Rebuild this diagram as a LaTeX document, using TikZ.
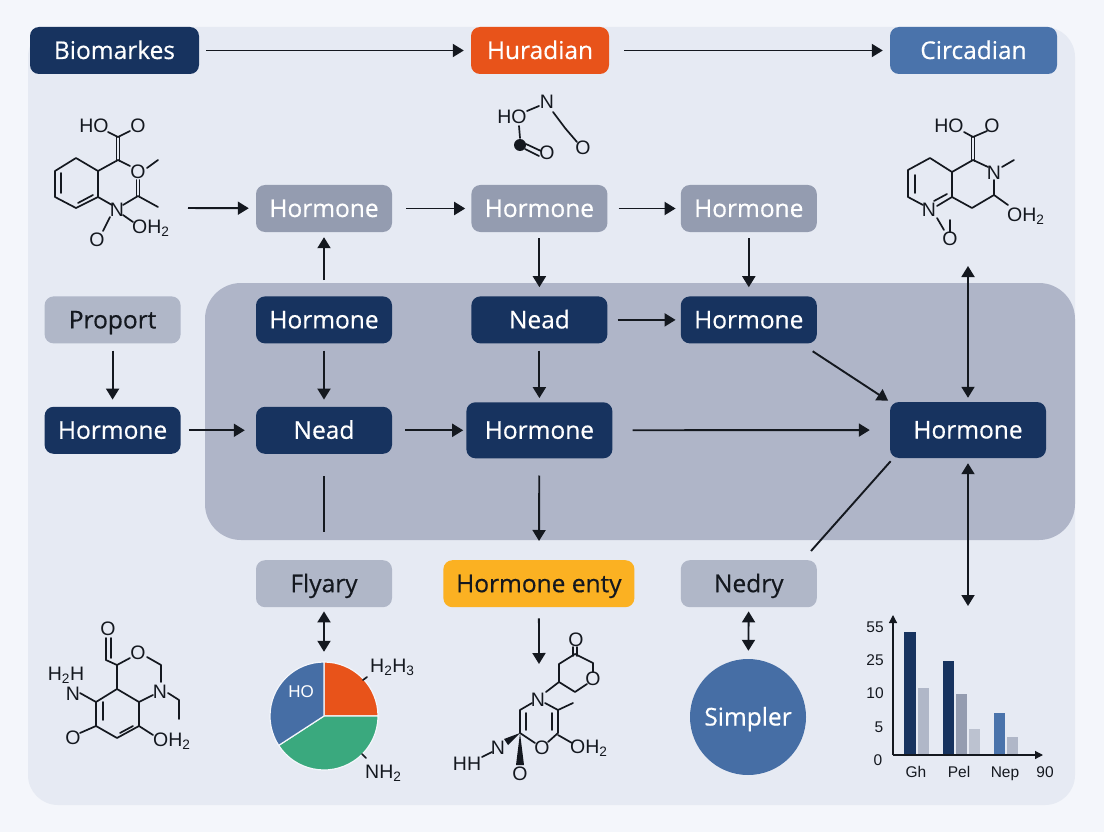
\documentclass[tikz,border=0pt]{standalone}
\usepackage{fontspec}
\setmainfont{Open Sans}[FakeBold=0.5]
\newfontfamily\labelfont{Open Sans}[AutoFakeBold=0.5]
\newfontfamily\chemfont{Liberation Sans}
\usetikzlibrary{positioning, arrows.meta}
\definecolor{pagebg}{HTML}{F4F6FB}
\definecolor{panelbg}{HTML}{E6EAF3}
\definecolor{midbg}{HTML}{AFB5C8}
\definecolor{navy}{HTML}{17335F}
\definecolor{steel}{HTML}{949CB0}
\definecolor{mist}{HTML}{B0B7C8}
\definecolor{sunset}{HTML}{E8531A}
\definecolor{amber}{HTML}{FBB122}
\definecolor{skyblue}{HTML}{4A73AB}
\definecolor{leaf}{HTML}{3AA97E}
\definecolor{inkc}{HTML}{14181F}

\begin{document}
\begin{tikzpicture}[
        x=1pt, y=-1pt,
        >={Stealth[inset=0pt, length=11pt, width=13pt]},
        % Blocks
        block/.style={rectangle, rounded corners=9pt, minimum height=47pt, minimum width=136pt, inner sep=0pt, align=center, text height=17pt, text depth=0pt, font=\labelfont\bfseries\fontsize{24.5}{26}\selectfont},
        darkb/.style={block, fill=navy, text=white},
        greyb/.style={block, fill=steel, text=white},
        softb/.style={block, fill=mist, text=inkc},
        % Connectors
        link/.style={line width=1.9pt, color=inkc, shorten <=7pt, shorten >=7pt},
        % Molecules
        bond/.style={line width=1.7pt, color=inkc, line cap=round, line join=round},
        atom/.style={inner sep=0pt, text=inkc, font=\chemfont\fontsize{19.5}{19}\selectfont},
        tick/.style={inner sep=0pt, text=inkc, text height=11pt, text depth=0pt, font=\chemfont\fontsize{15.5}{16}\selectfont},
        node distance=75pt
    ]
        \useasboundingbox (0,0) rectangle (1104,832);
        \fill[pagebg] (0,0) rectangle (1104,832);
        \fill[panelbg, rounded corners=30pt] (28,27) rectangle (1075,805);
        \fill[midbg, rounded corners=36pt] (205,283) rectangle (1075,540);

        % Top row
        \node[darkb, minimum width=169pt] (biomarkes) at (114.5,50.5) {Biomarkes};
        \node[block, fill=sunset, text=white, minimum width=138pt] (huradian) at (540,50.5) {Huradian};
        \node[block, fill=skyblue, text=white, minimum width=167pt] (circadian) at (973.5,50.5) {Circadian};

        % Grid of hormones
        \node[greyb] (hgreya) at (324,208.5) {Hormone};
        \node[greyb, right=79pt of hgreya] (hgreyb) {Hormone};
        \node[greyb, right=73pt of hgreyb] (hgreyc) {Hormone};
        \node[darkb, below=64pt of hgreya] (hdarka) {Hormone};
        \node[darkb, below=64pt of hgreyb] (nead) {Nead};
        \node[darkb, below=64pt of hgreyc] (hdarkc) {Hormone};
        \node[softb, left=of hdarka] (proport) {Proport};
        \node[darkb, below=63pt of proport] (hleft) {Hormone};
        \node[darkb, right=of hleft] (neadlow) {Nead};
        \node[darkb, minimum width=146pt, minimum height=56pt, right=74pt of neadlow] (hmid) {Hormone};
        \node[darkb, minimum width=156pt, minimum height=56pt] (hright) at (968,430) {Hormone};

        % Bottom row
        \node[softb, below=106pt of neadlow] (flyary) {Flyary};
        \node[block, fill=amber, text=inkc, minimum width=191pt, right=51pt of flyary] (enty) {Hormone enty};
        \node[softb, right=46pt of enty] (nedry) {Nedry};
        \node[circle, fill=skyblue!92!navy, text=white, minimum size=116pt, inner sep=0pt, text height=17pt, text depth=0pt, font=\labelfont\bfseries\fontsize{24.5}{26}\selectfont] (simpler) at (748,717) {Simpler};
        \node[circle, minimum size=108pt, inner sep=0pt] (pie) at (324,716) {};

        % Free ends
        \coordinate (molleft) at (181,208);
        \coordinate (molright) at (968,259);
        \coordinate (chart) at (968,613);
        \coordinate (molmid) at (539,671);
        \coordinate (nedryend) at (811,551);

        % Arrows
        \draw[->, link] (biomarkes) -- (huradian);
        \draw[->, link, shorten <=15pt] (huradian) -- (circadian);
        \draw[->, link] (molleft) -- (hgreya);
        \draw[->, link, shorten <=14pt, shorten >=6pt] (hgreya) -- (hgreyb);
        \draw[->, link, shorten <=11pt, shorten >=5pt] (hgreyb) -- (hgreyc);
        \draw[->, link, shorten <=16pt, shorten >=5pt] (hdarka) -- (hgreya);
        \draw[->, link, shorten <=6pt, shorten >=9pt] (hgreyb) -- (nead);
        \draw[->, link, shorten <=6pt, shorten >=9pt] (hgreyc) -- (hdarkc);
        \draw[->, link] (proport) -- (hleft);
        \draw[->, link] (hdarka) -- (neadlow);
        \draw[->, link, shorten >=4pt] (nead) -- (hmid);
        \draw[->, link, shorten <=10pt, shorten >=5pt] (nead) -- (hdarkc);
        \draw[->, link, shorten <=8pt, shorten >=11pt] (hleft) -- (neadlow);
        \draw[->, link, shorten <=13pt, shorten >=3pt] (neadlow) -- (hmid);
        \draw[->, link, shorten <=20pt, shorten >=20pt] (hmid) -- (hright);
        \draw[->, link, shorten <=14pt, shorten >=2pt] ([xshift=-16pt]hdarkc.south east) -- (hright.north west);
        \draw[<->, link, shorten <=4pt] (hright) -- (molright);
        \draw[<->, link, shorten <=5pt] (hright) -- (chart);
        \draw[->, link, shorten <=17pt, shorten >=19pt] (hmid) -- (enty);
        \draw[link, shorten <=22pt, shorten >=28pt] (neadlow) -- (flyary);
        \draw[link, shorten <=4pt, shorten >=0pt] ([xshift=3.5pt]hright.south west) -- (nedryend);
        \draw[<->, link, shorten <=4pt, shorten >=10pt] (flyary) -- (pie);
        \draw[->, link, shorten <=11pt] (enty) -- (molmid);
        \draw[<->, link, shorten <=4pt, shorten >=8pt] (nedry) -- (simpler);

        % Molecule top left
        \node[atom] (ma1) at (94,126) {HO};
        \node[atom] (ma2) at (138,126) {O};
        \node[atom] (ma3) at (138,172) {O};
        \node[atom] (ma4) at (117,210) {N};
        \node[atom, anchor=west] (ma5) at (132,228) {OH\textsubscript{2}};
        \node[atom] (ma6) at (97,240) {O};
        \draw[bond] (108,132) -- (118,137) -- (130,131);
        \draw[bond] (116.5,137) -- (116.5,161) (119.5,137) -- (119.5,161);
        \draw[bond] (130,166) -- (118,160) -- (98,171) -- (76,158) -- (55,171) -- (55,197) -- (76,208) -- (98,197) -- (98,171);
        \draw[bond] (61,173) -- (61,193) (78,203) -- (93,195);
        \draw[bond] (147,168) -- (158,160);
        \draw[bond] (136.5,180) -- (136.5,197) (139.5,180) -- (139.5,197);
        \draw[bond] (158,207) -- (138,196) -- (123,205);
        \draw[bond] (98,197) -- (112,205) (123,215) -- (133,222) (110,217) -- (103,231);

        % Molecule top middle
        \node[atom] (mb1) at (512,117) {HO};
        \node[atom] (mb2) at (547,102) {N};
        \node[atom] (mb3) at (583,148) {O};
        \node[atom] (mb4) at (547,153) {O};
        \fill[inkc] (520,145) circle (6pt);
        \draw[bond] (527,111) -- (539,106) (519,126) -- (520,138);
        \draw[bond] (526,144) -- (541,151) (525,149) -- (539,156);
        \draw[bond] (553,112) -- (565,128) -- (577,142);

        % Molecule top right
        \node[atom] (mc1) at (949,126) {HO};
        \node[atom] (mc2) at (992,126) {O};
        \node[atom] (mc3) at (994,173) {N};
        \node[atom] (mc4) at (929,210) {N};
        \node[atom, anchor=west] (mc5) at (1007,216) {OH\textsubscript{2}};
        \node[atom] (mc6) at (950,239) {O};
        \draw[bond] (964,132) -- (973,137) -- (987,131);
        \draw[bond] (971.5,137) -- (971.5,161) (974.5,137) -- (974.5,161);
        \draw[bond] (988,167) -- (973,160) -- (952,172) -- (930,158) -- (908,170) -- (908,197) -- (923,205);
        \draw[bond] (952,172) -- (952,197) -- (972,208) -- (994,195) -- (994,180);
        \draw[bond] (994,195) -- (1008,205) (1002,167) -- (1014,160);
        \draw[bond] (915,175) -- (915,193) (952,197) -- (937,206) (947,194) -- (934,201);
        \draw[bond] (937,218) -- (944,230) (950,220) -- (950,232);

        % Molecule bottom left
        \node[atom] (md1) at (108,629) {O};
        \node[atom] (md2) at (138,653) {O};
        \node[atom] (md3) at (160,692) {N};
        \node[atom] (md4) at (73,694) {N};
        \node[atom] (md5) at (66,675) {H\textsubscript{2}H};
        \node[atom] (md6) at (73,738) {O};
        \node[atom, anchor=west] (md7) at (153,741) {OH\textsubscript{2}};
        \draw[bond] (106,638) -- (106,660) (111,638) -- (111,658);
        \draw[bond] (106,660) -- (117,665) -- (130,658) (147,657) -- (161,665) -- (161,682);
        \draw[bond] (168,693) -- (179,700) -- (179,719);
        \draw[bond] (153,695) -- (139,702) -- (117,689) -- (117,665);
        \draw[bond] (80,693) -- (96,702) -- (117,689);
        \draw[bond] (96,702) -- (96,726) -- (117,738) -- (139,726) -- (139,702);
        \draw[bond] (103,702) -- (103,720) (120,733) -- (133,726);
        \draw[bond] (80,733) -- (96,726) (139,726) -- (153,735);

        % Molecule bottom middle
        \node[atom] (me1) at (576,640) {O};
        \node[atom] (me2) at (593,679) {O};
        \node[atom] (me3) at (538,700) {N};
        \node[atom] (me4) at (542,748) {O};
        \node[atom] (me5) at (498,748) {N};
        \node[atom] (me6) at (467,764) {HH};
        \node[atom] (me7) at (520,774) {O};
        \node[atom, anchor=west] (me8) at (570,748) {OH\textsubscript{2}};
        \draw[bond] (573,647) -- (573,656) (577,647) -- (577,656);
        \draw[bond] (587,684) -- (575,692) -- (559,682) -- (559,664) -- (575,654) -- (593,663) -- (593,672);
        \draw[bond] (559,682) -- (546,692);
        \draw[bond] (532,703) -- (520,710) -- (520,733) -- (535,743);
        \draw[bond] (545,703) -- (558,710) -- (573,703) (558,710) -- (558,733) -- (548,742);
        \draw[bond] (526,713) -- (526,730) (552,713) -- (552,730);
        \draw[bond] (558,735) -- (572,743) (492,752) -- (482,757);
        \fill[inkc] (520,733) -- (504,739) -- (508,745) -- cycle;
        \fill[inkc] (520,733) -- (516,765) -- (524,765) -- cycle;

        % Pie
        \begin{scope}[shift={(pie.center)}, y=1pt]
            \fill[sunset, draw=pagebg, line width=1.2pt] (0,0) -- (0:54) arc[start angle=0, end angle=90, radius=54] -- cycle;
            \fill[leaf, draw=pagebg, line width=1.2pt] (0,0) -- (213:54) arc[start angle=213, end angle=360, radius=54] -- cycle;
            \fill[skyblue!92!navy, draw=pagebg, line width=1.2pt] (0,0) -- (90:54) arc[start angle=90, end angle=213, radius=54] -- cycle;
        \end{scope}
        \node[inner sep=0pt, text=white, font=\chemfont\fontsize{17}{17}\selectfont] (pieho) at (301,692) {HO};
        \node[atom, anchor=west] (piehh) at (370,667) {H\textsubscript{2}H\textsubscript{3}};
        \node[atom, anchor=west] (pienh) at (365,773) {NH\textsubscript{2}};
        \draw[bond] (367,677) -- (363,680) (362,754) -- (366,758);

        % Bar chart
        \coordinate (chartzero) at (893,755);
        \coordinate (charttop) at (893,615);
        \coordinate (chartend) at (1043,755);
        \fill[navy] (904,632) rectangle (916,754);
        \fill[mist] (918,688) rectangle (929,754);
        \fill[navy] (943,661) rectangle (954,754);
        \fill[steel] (956,694) rectangle (967,754);
        \fill[mist!85!white] (969,729) rectangle (980,754);
        \fill[skyblue] (994,713) rectangle (1005,754);
        \fill[mist] (1007,737) rectangle (1018,754);
        \draw[-{Stealth[inset=0pt, length=8pt, width=8pt]}, line width=1.2pt, color=inkc] (chartzero) -- (charttop);
        \draw[-{Stealth[inset=0pt, length=8pt, width=8pt]}, line width=1.2pt, color=inkc] (chartzero) -- (chartend);
        \node[tick] (ya) at (875,627) {55};
        \node[tick] (yb) at (875,660) {25};
        \node[tick] (yc) at (875,693) {10};
        \node[tick] (yd) at (879,727) {5};
        \node[tick] (ye) at (878,760) {0};
        \node[tick] (xa) at (916,772) {Gh};
        \node[tick] (xb) at (959,772) {Pel};
        \node[tick] (xc) at (1005,772) {Nep};
        \node[tick] (xd) at (1045,772) {90};
    \end{tikzpicture}
\end{document}
